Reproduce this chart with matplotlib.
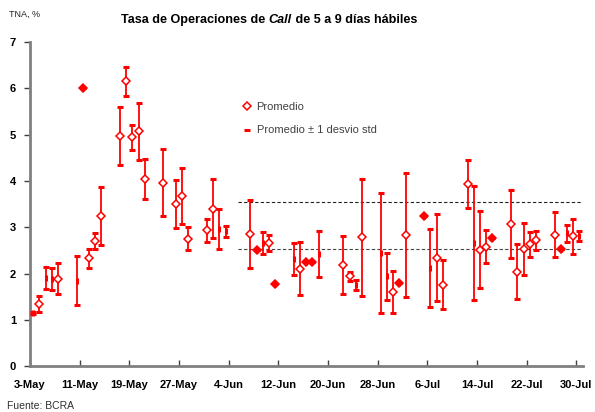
import numpy as np
import pandas as pd
import matplotlib
matplotlib.use("Agg")
import matplotlib.pyplot as plt
from matplotlib.lines import Line2D

plt.rcParams['font.family'] = ['Liberation Sans', 'DejaVu Sans']

# datos: fecha, promedio, desvio estandar, y si se dibuja el rombo de promedio
fechas = ["2004-05-03", "2004-05-04", "2004-05-05", "2004-05-06", "2004-05-07",
          "2004-05-10", "2004-05-11", "2004-05-12", "2004-05-13", "2004-05-14",
          "2004-05-17", "2004-05-18", "2004-05-19", "2004-05-20", "2004-05-21",
          "2004-05-24", "2004-05-26", "2004-05-27", "2004-05-28",
          "2004-05-31", "2004-06-01", "2004-06-02", "2004-06-03",
          "2004-06-07", "2004-06-08", "2004-06-09", "2004-06-10", "2004-06-11",
          "2004-06-14", "2004-06-15", "2004-06-16", "2004-06-17", "2004-06-18",
          "2004-06-22", "2004-06-23", "2004-06-24", "2004-06-25",
          "2004-06-28", "2004-06-29", "2004-06-30", "2004-07-01", "2004-07-02",
          "2004-07-05", "2004-07-06", "2004-07-07", "2004-07-08",
          "2004-07-12", "2004-07-13", "2004-07-14", "2004-07-15", "2004-07-16",
          "2004-07-19", "2004-07-20", "2004-07-21", "2004-07-22", "2004-07-23",
          "2004-07-26", "2004-07-27", "2004-07-28", "2004-07-29", "2004-07-30"]
media = [1.15, 1.34, 1.91, 1.89, 1.89,
         1.85, 6.00, 2.33, 2.71, 3.25,
         4.97, 6.15, 4.94, 5.07, 4.05,
         3.96, 3.51, 3.67, 2.75,
         2.94, 3.40, 2.97, 2.91,
         2.86, 2.50, 2.66, 2.66, 1.78,
         2.31, 2.11, 2.25, 2.25, 2.43,
         2.19, 1.94, 1.76, 2.78,
         2.44, 1.94, 1.61, 1.79, 2.83,
         3.24, 2.12, 2.34, 1.76,
         3.94, 2.66, 2.52, 2.58, 2.76,
         3.07, 2.04, 2.53, 2.63, 2.72,
         2.84, 2.53, 2.87, 2.81, 2.81]
desvio = [0.02, 0.17, 0.24, 0.24, 0.33,
          0.53, 0.00, 0.21, 0.17, 0.63,
          0.62, 0.31, 0.27, 0.62, 0.43,
          0.72, 0.52, 0.60, 0.25,
          0.25, 0.64, 0.43, 0.12,
          0.74, 0.00, 0.23, 0.18, 0.00,
          0.35, 0.57, 0.00, 0.00, 0.50,
          0.62, 0.09, 0.11, 1.26,
          1.30, 0.50, 0.45, 0.00, 1.34,
          0.00, 0.84, 0.94, 0.53,
          0.52, 1.23, 0.83, 0.36, 0.00,
          0.74, 0.59, 0.57, 0.27, 0.21,
          0.48, 0.00, 0.18, 0.38, 0.11]
sin_rombo = ["2004-05-03", "2004-05-05", "2004-05-06", "2004-05-10",
             "2004-06-02", "2004-06-03", "2004-06-09", "2004-06-14", "2004-06-18",
             "2004-06-24", "2004-06-28", "2004-06-29", "2004-07-06", "2004-07-13",
             "2004-07-28", "2004-07-30"]

# lineas de referencia
ref_desde = "2004-06-05 12:00"
ref_sup = 3.55
ref_inf = 2.53

x_ini = "2004-05-03"
x_fin = "2004-07-31"

df = pd.DataFrame({"fecha": pd.to_datetime(fechas), "media": media, "desvio": desvio})
df["x"] = df["fecha"] + pd.Timedelta(hours=12)  # puntos centrados en el dia
rombo = ~df["fecha"].isin(pd.to_datetime(sin_rombo))
lleno = rombo & (df["desvio"] == 0)
abierto = rombo & (df["desvio"] > 0)

fig = plt.figure(figsize=(5.95, 4.12), dpi=100)
ax = fig.add_axes([0.0504, 0.111, 0.9286, 0.787])

rojo = "#FF0000"
ax.errorbar(df["x"], df["media"], yerr=df["desvio"], fmt="|", color=rojo,
            ms=5, mew=2.2, elinewidth=1.3, capsize=2.3, capthick=2, zorder=3)
ax.plot(df.loc[abierto, "x"], df.loc[abierto, "media"], ls="none", marker="D",
        ms=4.3, mfc="white", mec=rojo, mew=1.1, zorder=4)
ax.plot(df.loc[lleno, "x"], df.loc[lleno, "media"], ls="none", marker="D",
        ms=4.3, mfc=rojo, mec=rojo, mew=1.1, zorder=2)

# lineas punteadas
x0 = pd.Timestamp(ref_desde)
x1 = pd.Timestamp(x_fin)
ax.plot([x0, x1], [ref_sup, ref_sup], color="#222222", lw=0.8, ls=(0, (3, 2)), zorder=1)
ax.plot([x0, x1], [ref_inf, ref_inf], color="#444444", lw=0.8, ls=(0, (3, 2)), zorder=1)

ax.set_xlim(pd.Timestamp(x_ini), pd.Timestamp(x_fin))
ax.set_ylim(0, 7)
ax.set_yticks(range(0, 8))
ticks = pd.date_range(x_ini, periods=12, freq="8D")
ax.set_xticks(ticks)
ax.set_xticklabels([f"{t.day}-{t.strftime('%b')}" for t in ticks])

for s in ["top", "right"]:
    ax.spines[s].set_visible(False)
for s in ["left", "bottom"]:
    ax.spines[s].set_color("#808080")
    ax.spines[s].set_linewidth(2)

ax.tick_params(axis="y", direction="out", length=4, width=1, color="#404040",
               labelsize=8, pad=6)
ax.tick_params(axis="x", direction="in", length=4, width=1, color="#404040",
               labelsize=8, pad=10)
for lab in ax.get_xticklabels() + ax.get_yticklabels():
    lab.set_fontweight("bold")

# leyenda
h1 = Line2D([], [], ls="none", marker="D", ms=4.3, mfc="white", mec=rojo, mew=1.1)
h2 = Line2D([], [], ls="none", marker="_", ms=4, mew=2.2, color=rojo)
leg = ax.legend([h1, h2], ["Promedio", "Promedio ± 1 desvio std"], loc="upper left",
                bbox_to_anchor=(0.378, 0.83), frameon=False, fontsize=8,
                handlelength=0.7, handletextpad=0.5, labelspacing=1.25,
                borderaxespad=0)
for t in leg.get_texts():
    t.set_color("#404040")

# titulo en tres partes (Call en cursiva)
t1 = fig.text(0.203, 0.945, "Tasa de Operaciones de ", fontsize=9.1, fontweight="bold",
              va="baseline")
t2 = ax.annotate("Call", xy=(1, 0), xycoords=t1, fontsize=9.1, fontweight="bold",
                 style="italic", va="bottom")
t3 = ax.annotate(" de 5 a 9 días hábiles", xy=(1, 0), xycoords=t2, fontsize=9.1,
                 fontweight="bold", va="bottom")

fig.text(0.015, 0.958, "TNA, %", fontsize=6.5, color="#202020")
fig.text(0.012, 0.008, "Fuente: BCRA", fontsize=7.5, color="#303030")

fig.savefig("out.png", dpi=100)
